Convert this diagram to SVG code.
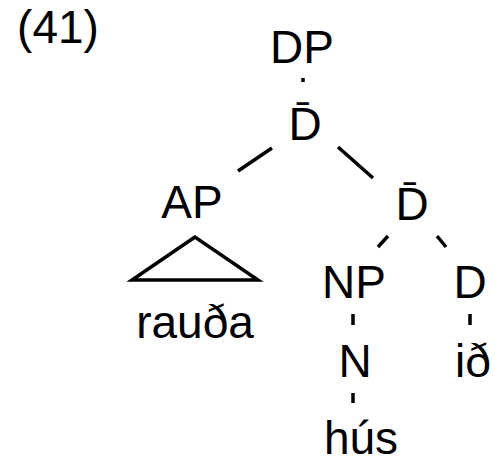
<svg xmlns="http://www.w3.org/2000/svg" width="495" height="456" viewBox="0 0 495 456">
  <style>
    text { font-family: "Liberation Sans", Arial, sans-serif; font-size: 46px; fill: #000; text-anchor: middle; }
    .edge { stroke: #000; stroke-width: 3.5; fill: none; }
  </style>
  <rect width="495" height="456" fill="#fff"/>
  <text x="58" y="43">(41)</text>

  <g id="connectors">
    <line class="edge" x1="303" y1="78" x2="303" y2="82"/>
    <line class="edge" x1="272" y1="148" x2="238" y2="171"/>
    <line class="edge" x1="338" y1="147" x2="373" y2="178"/>
    <line class="edge" x1="388" y1="236" x2="378" y2="247"/>
    <line class="edge" x1="437" y1="236" x2="446" y2="247"/>
    <line class="edge" x1="353" y1="314" x2="353" y2="325"/>
    <line class="edge" x1="470" y1="314" x2="470" y2="325"/>
    <line class="edge" x1="353" y1="393" x2="353" y2="403"/>
  </g>

  <g id="DP"><text x="302" y="63">DP</text></g>
  <g id="Dbar1"><text x="305" y="140">D̄</text></g>
  <g id="AP">
    <text x="192" y="218">AP</text>
    <polygon class="edge" points="195,237 132,280 258,280"/>
    <text x="195" y="338">rauða</text>
  </g>
  <g id="Dbar2"><text x="412" y="220">D̄</text></g>
  <g id="NP"><text x="354" y="298">NP</text></g>
  <g id="D"><text x="470" y="298">D</text></g>
  <g id="N"><text x="355" y="377">N</text></g>
  <g id="id"><text x="473" y="377">ið</text></g>
  <g id="hus"><text x="361" y="454">hús</text></g>
</svg>
